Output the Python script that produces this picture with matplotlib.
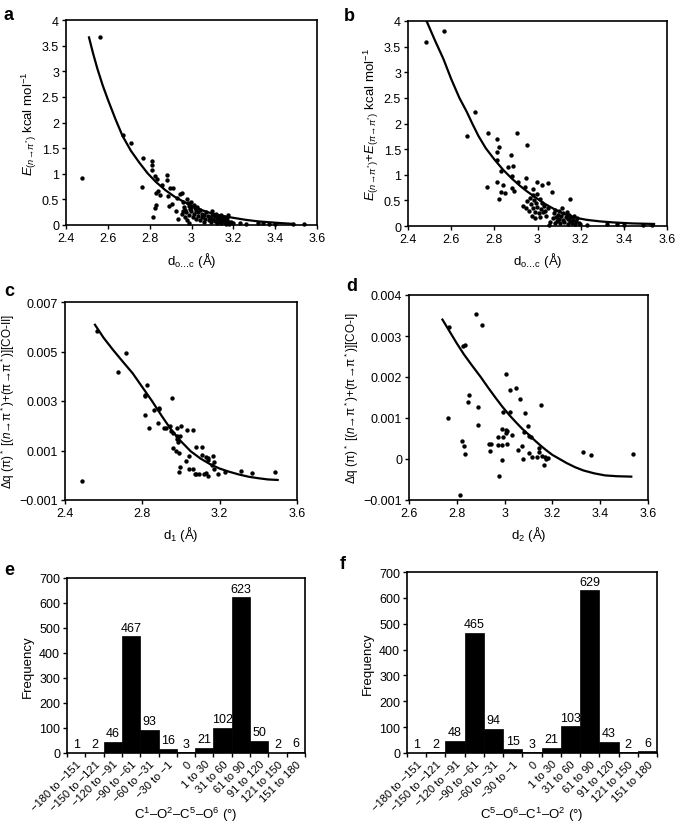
import numpy as np
import matplotlib
matplotlib.use("Agg")
import matplotlib.pyplot as plt
from matplotlib.ticker import FuncFormatter

plt.rcParams['font.family'] = ['Liberation Sans', 'DejaVu Sans']
plt.rcParams['mathtext.fontset'] = 'custom'
plt.rcParams['mathtext.rm'] = 'Liberation Sans'
plt.rcParams['mathtext.it'] = 'Liberation Sans:italic'
plt.rcParams['mathtext.bf'] = 'Liberation Sans:bold'

# ---- panel a: E(n->pi*) vs d(O...C)
a_x = [2.478, 2.562, 2.672, 2.709, 2.766, 2.763, 2.809, 2.809, 2.809, 2.814, 2.825, 2.833, 2.83, 2.84,
       2.857, 2.849, 2.83, 2.826, 2.881, 2.881, 2.897, 2.913, 2.894, 2.905, 2.886, 2.945, 2.953, 2.93,
       2.928, 2.936,
       2.96, 2.965, 2.97, 2.975, 2.98, 2.985, 2.99, 2.99, 2.995, 3.0, 3.0, 3.005, 3.01, 3.01, 3.015,
       3.02, 3.02, 3.025, 3.03, 3.03, 3.04, 3.04, 3.05, 3.05, 3.06, 3.06, 2.97, 2.98, 2.955, 2.96, 3.0,
       2.99, 3.065, 3.07,
       3.08, 3.085, 3.09, 3.095, 3.10, 3.10, 3.105, 3.11, 3.11, 3.115, 3.12, 3.12, 3.125, 3.13, 3.13,
       3.135, 3.14, 3.14, 3.145, 3.15, 3.155, 3.16, 3.16, 3.165, 3.17, 3.17, 3.175, 3.18, 3.18, 3.19,
       3.20, 3.23, 3.26, 3.32, 3.34, 3.37, 3.40, 3.485, 3.54]
a_y = [0.91, 3.66, 1.75, 1.60, 1.31, 0.74, 1.25, 1.17, 1.08, 0.16, 0.95, 0.90, 0.62, 0.67,
       0.78, 0.59, 0.39, 0.33, 0.98, 0.88, 0.72, 0.72, 0.38, 0.41, 0.56, 0.60, 0.63, 0.53,
       0.28, 0.12,
       0.45, 0.35, 0.30, 0.25, 0.50, 0.42, 0.38, 0.20, 0.31, 0.27, 0.45, 0.15, 0.40, 0.22, 0.33,
       0.28, 0.12, 0.36, 0.18, 0.25, 0.30, 0.10, 0.22, 0.15, 0.05, 0.20, 0.15, 0.10, 0.22, 0.28, 0.35,
       0.03, 0.12, 0.25,
       0.18, 0.10, 0.14, 0.05, 0.20, 0.27, 0.12, 0.08, 0.17, 0.22, 0.04, 0.13, 0.18, 0.10, 0.07,
       0.15, 0.20, 0.03, 0.12, 0.08, 0.16, 0.05, 0.11, 0.02, 0.14, 0.08, 0.20, 0.05, 0.01, 0.06,
       0.03, 0.04, 0.02, 0.03, 0.04, 0.02, 0.01, 0.01, 0.01]
a_curve_x = [2.51, 2.53, 2.55, 2.575, 2.60, 2.635, 2.67, 2.71, 2.75, 2.79, 2.83, 2.875, 2.92,
             2.96, 3.00, 3.05, 3.10, 3.15, 3.20, 3.26, 3.32, 3.40, 3.49]
a_curve_y = [3.66, 3.34, 3.05, 2.73, 2.45, 2.08, 1.74, 1.45, 1.22, 1.01, 0.84, 0.68, 0.55,
             0.46, 0.38, 0.29, 0.22, 0.175, 0.14, 0.10, 0.07, 0.045, 0.02]

# ---- panel b: E(n->pi*) + E(pi->pi*) vs d(O...C)
b_x = [2.485, 2.565, 2.673, 2.71, 2.767, 2.772, 2.811, 2.823, 2.811, 2.811, 2.877, 2.865, 2.885, 2.88,
       2.831, 2.814, 2.84, 2.83, 2.85, 2.823, 2.88, 2.89, 2.911, 2.947, 2.94, 2.98, 2.999, 3.02, 3.05,
       3.066, 3.15, 2.904, 2.953, 2.934,
       2.945, 2.95, 2.96, 2.965, 2.97, 2.975, 2.98, 2.98, 2.985, 2.99, 2.99, 2.995, 3.0, 3.0, 3.005,
       3.01, 3.01, 3.015, 3.02, 3.025, 3.03, 3.035, 3.04, 3.05, 3.06, 3.055,
       3.07, 3.075, 3.08, 3.08, 3.085, 3.09, 3.095, 3.10, 3.10, 3.105, 3.11, 3.115, 3.12, 3.12, 3.125,
       3.13, 3.135, 3.14, 3.14, 3.145, 3.15, 3.155, 3.16, 3.165, 3.17, 3.175, 3.18, 3.185, 3.19,
       3.197, 3.228, 3.32, 3.367, 3.40, 3.49, 3.53]
b_y = [3.60, 3.81, 1.76, 2.23, 0.77, 1.81, 1.70, 1.54, 1.44, 1.29, 1.39, 1.15, 1.18, 0.98,
       1.08, 0.85, 0.80, 0.67, 0.64, 0.53, 0.74, 0.68, 0.86, 0.93, 0.76, 0.72, 0.86, 0.80, 0.83,
       0.67, 0.53, 1.81, 1.59, 0.40,
       0.36, 0.48, 0.30, 0.55, 0.42, 0.20, 0.35, 0.60, 0.50, 0.28, 0.15, 0.44, 0.38, 0.62, 0.25,
       0.52, 0.18, 0.33, 0.45, 0.27, 0.40, 0.30, 0.20, 0.35, 0.08, 0.02,
       0.15, 0.25, 0.05, 0.32, 0.18, 0.10, 0.22, 0.30, 0.14, 0.06, 0.20, 0.35, 0.12, 0.25, 0.08,
       0.18, 0.28, 0.14, 0.04, 0.22, 0.10, 0.17, 0.06, 0.12, 0.20, 0.03, 0.09, 0.15, 0.05,
       0.03, 0.02, 0.04, 0.04, 0.02, 0.02, 0.02]
b_curve_x = [2.487, 2.525, 2.564, 2.60, 2.638, 2.672, 2.70, 2.726, 2.76, 2.80, 2.84, 2.88, 2.92,
             2.95, 3.00, 3.035, 3.073, 3.11, 3.15, 3.19, 3.228, 3.29, 3.35, 3.44, 3.54]
b_curve_y = [3.99, 3.62, 3.26, 2.87, 2.50, 2.23, 1.98, 1.76, 1.52, 1.30, 1.10, 0.93, 0.78,
             0.68, 0.53, 0.43, 0.34, 0.26, 0.19, 0.15, 0.12, 0.09, 0.07, 0.05, 0.04]

# ---- panel c: charge transfer [CO-II] vs d1
c_x = [2.486, 2.564, 2.714, 2.676, 2.826, 2.814, 2.814, 2.955, 2.814, 2.836, 2.86, 2.886, 2.887,
       2.88, 2.91, 2.943, 2.95, 2.96, 2.98, 3.0, 2.98, 2.995, 3.03, 3.06, 2.98, 2.985, 2.957, 2.975,
       2.99, 3.024, 2.995, 2.99, 3.04, 3.06, 3.04, 3.08, 3.11, 3.08, 3.07, 3.095, 3.12, 3.11, 3.13,
       3.14, 3.14, 3.167, 3.17, 3.16, 3.17, 3.13, 3.14, 3.19, 3.23, 3.31, 3.365, 3.486, 2.92]
c_y = [-0.00022, 0.00582, 0.00493, 0.00416, 0.00365, 0.00325, 0.0032, 0.00312, 0.00243, 0.0019,
       0.00262, 0.00272, 0.00266, 0.0021, 0.0019, 0.0020, 0.0018, 0.0017, 0.0019, 0.00198, 0.0016,
       0.0016, 0.00183, 0.00184, 0.00147, 0.00135, 0.00109, 0.00096, 0.00091, 0.00059, 0.00032,
       0.00012, 0.00078, 0.00025, 0.00025, 0.00115, 0.00115, 0.00005, 0.00005, 0.00005, 0.00005,
       0.0008, 0.00075, 0.0007, 0.00063, 0.00077, 0.00055, 0.0004, 0.00025, 0.0001, -0.00005,
       0.00005, 0.00012, 0.00018, 0.00009, 0.00014, 0.0019]
c_curve_x = [2.555, 2.60, 2.65, 2.70, 2.75, 2.80, 2.85, 2.90, 2.95, 3.00, 3.05, 3.10, 3.15, 3.20,
             3.25, 3.30, 3.35, 3.40, 3.45, 3.50]
c_curve_y = [0.00608, 0.00555, 0.00505, 0.00458, 0.00412, 0.00356, 0.00300, 0.00240, 0.00183,
             0.00137, 0.00097, 0.00068, 0.00045, 0.00027, 0.00014, 0.00003, -0.00006, -0.00012,
             -0.00017, -0.00019]

# ---- panel d: charge transfer [CO-I] vs d2
d_x = [2.767, 2.765, 2.879, 2.904, 2.826, 2.834, 2.851, 2.848, 2.89, 2.89, 2.823, 2.83, 2.834,
       2.813, 2.935, 2.945, 2.938, 2.973, 2.988, 3.005, 3.01, 2.995, 3.005, 3.03, 3.012, 2.973,
       2.988, 2.99, 2.977, 3.005, 3.021, 3.049, 2.994, 3.021, 3.063, 3.084, 3.151, 3.08, 3.098,
       3.10, 3.11, 3.057, 3.072, 3.077, 3.10, 3.116, 3.137, 3.146, 3.143, 3.158, 3.17, 3.175, 3.18,
       3.165, 3.326, 3.361, 3.538]
d_y = [0.00322, 0.00101, 0.00353, 0.00328, 0.00276, 0.00278, 0.00156, 0.00138, 0.00127, 0.00083,
       0.00045, 0.00031, 0.00012, -0.00089, 0.00036, 0.00037, 0.0002, 0.00053, 0.00073, 0.0007,
       0.00068, 0.00053, 0.00063, 0.00059, 0.00037, 0.00033, 0.00033, -0.00002, -0.00042, 0.00207,
       0.00169, 0.00173, 0.00114, 0.00115, 0.00146, 0.00111, 0.00131, 0.00065, 0.0008, 0.00056,
       0.00054, 0.00023, 0.00032, 0.0, 0.00015, 0.00004, 0.00005, 0.00028, 0.00018, 0.00008,
       0.00004, 0.00001, 0.00003, -0.00014, 0.00018, 0.0001, 0.00012]
d_curve_x = [2.74, 2.77, 2.80, 2.83, 2.865, 2.90, 2.93, 2.96, 2.99, 3.02, 3.05, 3.075, 3.10, 3.125,
             3.15, 3.175, 3.20, 3.23, 3.26, 3.295, 3.33, 3.375, 3.42, 3.47, 3.53]
d_curve_y = [0.0034, 0.00311, 0.00282, 0.00255, 0.00227, 0.002, 0.00175, 0.00151, 0.00128,
             0.00107, 0.00088, 0.00073, 0.0006, 0.00046, 0.00033, 0.00021, 0.0001, 0.0,
             -0.0001, -0.0002, -0.00028, -0.00035, -0.0004, -0.00042, -0.00043]

# ---- panels e, f: dihedral histograms
bins = ["\u2212180 to \u2212151", "\u2212150 to \u2212121", "\u2212120 to \u221291",
        "\u221290 to \u221261", "\u221260 to \u221231", "\u221230 to \u22121", "0",
        "1 to 30", "31 to 60", "61 to 90", "91 to 120", "121 to 150", "151 to 180"]
e_counts = [1, 2, 46, 467, 93, 16, 3, 21, 102, 623, 50, 2, 6]
f_counts = [1, 2, 48, 465, 94, 15, 3, 21, 103, 629, 43, 2, 6]

W, H = 675, 828
fig = plt.figure(figsize=(W / 100, H / 100), dpi=100)


def box(l, r, t, b):
    return [l / W, (H - b) / H, (r - l) / W, (b - t) / H]


def fmt(v, pos):
    s = "%g" % round(v, 6)
    return s.replace("-", "\u2212")


def style(ax):
    for sp in ax.spines.values():
        sp.set_linewidth(1.2)
    ax.tick_params(direction='out', length=3, width=1, labelsize=9, pad=2)


def scatter_panel(ax, x, y, cx, cy, xlim, xticks, ylim, yticks):
    ax.scatter(x, y, s=10, color='black', zorder=3, clip_on=False, linewidths=0)
    ax.plot(cx, cy, color='black', lw=1.6, zorder=2, solid_joinstyle='round')
    ax.set_xlim(*xlim)
    ax.set_ylim(*ylim)
    ax.set_xticks(xticks)
    ax.set_yticks(yticks)
    ax.xaxis.set_major_formatter(FuncFormatter(fmt))
    ax.yaxis.set_major_formatter(FuncFormatter(fmt))
    style(ax)


d_oc = "d$_{\\rm o\u2026c}$ (Å)"

ax_a = fig.add_axes(box(66, 317, 21, 226))
scatter_panel(ax_a, a_x, a_y, a_curve_x, a_curve_y, (2.4, 3.6), np.arange(2.4, 3.61, 0.2),
              (0, 4), np.arange(0, 4.01, 0.5))
ax_a.set_xlabel(d_oc, fontsize=9.5)
ax_a.set_ylabel(r"$E_{(n\!\rightarrow\!\pi^{*})}$ kcal mol$^{-1}$", fontsize=9.5, labelpad=2)

ax_b = fig.add_axes(box(408, 667, 22, 227))
scatter_panel(ax_b, b_x, b_y, b_curve_x, b_curve_y, (2.4, 3.6), np.arange(2.4, 3.61, 0.2),
              (0, 4), np.arange(0, 4.01, 0.5))
ax_b.set_xlabel(d_oc, fontsize=9.5)
ax_b.set_ylabel(r"$E_{(n\!\rightarrow\!\pi^{*})}$+$E_{(\pi\!\rightarrow\!\pi^{*})}$ kcal mol$^{-1}$",
                fontsize=9.5, labelpad=2)

dq_label = "\u0394q (\u03c0)$^*$ [($n$\u2192\u03c0$^*$)+(\u03c0\u2192\u03c0$^*$)][CO-{}]"

ax_c = fig.add_axes(box(65, 297, 303, 501))
scatter_panel(ax_c, c_x, c_y, c_curve_x, c_curve_y, (2.4, 3.6), [2.4, 2.8, 3.2, 3.6],
              (-0.001, 0.007), [-0.001, 0.001, 0.003, 0.005, 0.007])
ax_c.set_xlabel(r"d$_1$ (Å)", fontsize=9.5)
ax_c.set_ylabel(dq_label.format("II"), fontsize=8.5, labelpad=2)

ax_d = fig.add_axes(box(409, 648, 296, 501))
scatter_panel(ax_d, d_x, d_y, d_curve_x, d_curve_y, (2.6, 3.6), np.arange(2.6, 3.61, 0.2),
              (-0.001, 0.004), np.arange(-0.001, 0.00401, 0.001))
ax_d.set_xlabel(r"d$_2$ (Å)", fontsize=9.5)
ax_d.set_ylabel(dq_label.format("I"), fontsize=8.5, labelpad=2)


def hist_panel(ax, counts, xlabel, label_y):
    pos = np.arange(len(bins))
    ax.bar(pos, counts, width=1.0, color='black', edgecolor='black', linewidth=0.5)
    for p, c in zip(pos, counts):
        ax.text(p, c + 10, str(c), ha='center', va='bottom', fontsize=9)
    ax.set_xlim(-0.5, len(bins) - 0.5)
    ax.set_ylim(0, 700)
    ax.set_yticks(np.arange(0, 701, 100))
    ax.set_xticks(pos)
    ax.set_xticklabels(bins, rotation=45, ha='right', rotation_mode='anchor', fontsize=8)
    ax.set_xticks(np.arange(-0.5, len(bins), 1.0), minor=True)
    style(ax)
    ax.tick_params(axis='x', which='major', length=0, pad=4, labelsize=8)
    ax.tick_params(axis='x', which='minor', direction='out', length=3, width=1)
    ax.set_ylabel("Frequency", fontsize=9.5)
    ax.set_xlabel(xlabel, fontsize=9.5, va='center')
    ax.xaxis.set_label_coords(0.5, label_y)


ax_e = fig.add_axes(box(67, 305, 579, 754))
hist_panel(ax_e, e_counts, r"C$^1$–O$^2$–C$^5$–O$^6$ (°)", -(815 - 754) / 175)

ax_f = fig.add_axes(box(407, 657, 573, 754))
hist_panel(ax_f, f_counts, r"C$^5$–O$^6$–C$^1$–O$^2$ (°)", -(815 - 754) / 181)

for lab, px, py in [("a", 4, 20), ("b", 344, 21), ("c", 4, 296), ("d", 346, 291),
                    ("e", 4, 575), ("f", 340, 569)]:
    fig.text(px / W, 1 - py / H, lab, fontsize=13, fontweight='bold', va='baseline')

fig.savefig("out.png", dpi=100)
